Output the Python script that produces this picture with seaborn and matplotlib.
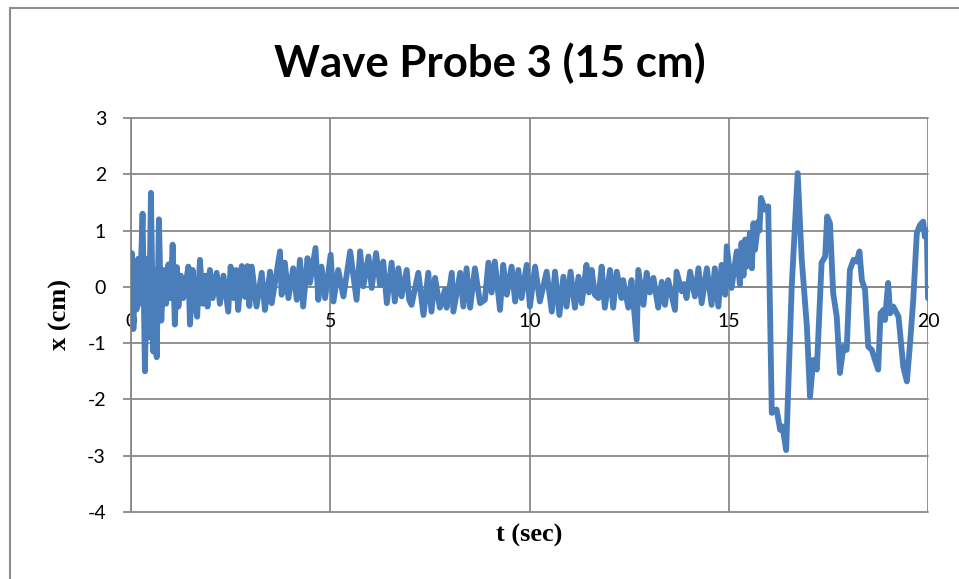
import matplotlib
matplotlib.use("Agg")
import matplotlib.pyplot as plt
from matplotlib.patches import Rectangle
import seaborn as sns
import pandas as pd

# Wave probe 3 record: time (s) and surface elevation (cm)
t_sec = [
    0.00, 0.02, 0.06, 0.10, 0.14, 0.18, 0.22, 0.29, 0.35, 0.40,
    0.45, 0.50, 0.56, 0.60, 0.645, 0.70, 0.76, 0.82, 0.88, 0.94,
    0.99, 1.045, 1.10, 1.15, 1.19, 1.25, 1.31, 1.37, 1.44, 1.48,
    1.55, 1.61, 1.66, 1.73, 1.80, 1.86, 1.92, 1.98, 2.05, 2.15,
    2.23, 2.32, 2.44, 2.50, 2.58, 2.64, 2.69, 2.78, 2.86, 2.92,
    2.97, 3.03, 3.15, 3.28, 3.36, 3.49, 3.53, 3.74, 3.78, 3.86,
    3.95, 4.07, 4.16, 4.24, 4.32, 4.43, 4.49, 4.63, 4.70, 4.78,
    4.87, 5.01, 5.08, 5.20, 5.33, 5.50, 5.66, 5.75, 5.83, 5.96,
    6.04, 6.15, 6.25, 6.33, 6.42, 6.54, 6.62, 6.71, 6.79, 6.92,
    6.98, 7.04, 7.21, 7.34, 7.46, 7.54, 7.63, 7.75, 7.88, 7.92,
    8.05, 8.09, 8.26, 8.34, 8.42, 8.51, 8.63, 8.76, 8.88, 8.97,
    9.05, 9.13, 9.26, 9.34, 9.43, 9.55, 9.64, 9.72, 9.80, 9.93,
    10.01, 10.14, 10.26, 10.43, 10.56, 10.64, 10.75, 10.85, 10.93, 11.03,
    11.14, 11.23, 11.31, 11.43, 11.49, 11.56, 11.64, 11.73, 11.81, 11.89,
    12.02, 12.10, 12.19, 12.31, 12.35, 12.48, 12.56, 12.69, 12.73, 12.86,
    12.94, 13.02, 13.11, 13.23, 13.32, 13.40, 13.48, 13.65, 13.69, 13.82,
    13.88, 13.94, 14.03, 14.15, 14.24, 14.32, 14.45, 14.57, 14.65, 14.74,
    14.82, 14.91, 14.95, 15.07, 15.20, 15.28, 15.32, 15.37, 15.41, 15.45,
    15.53, 15.58, 15.62, 15.66, 15.74, 15.77, 15.81, 15.91, 15.99, 16.08,
    16.20, 16.29, 16.35, 16.44, 16.58, 16.73, 16.83, 16.96, 17.04, 17.12,
    17.21, 17.33, 17.42, 17.47, 17.54, 17.62, 17.71, 17.79, 17.88, 17.96,
    18.04, 18.13, 18.21, 18.28, 18.34, 18.42, 18.50, 18.59, 18.67, 18.75,
    18.81, 18.88, 18.92, 19.00, 19.05, 19.13, 19.26, 19.38, 19.47, 19.55,
    19.63, 19.72, 19.80, 19.88, 19.92, 19.97, 20.00,
]
x_cm = [
    -0.20, 0.60, -0.75, 0.40, -0.40, 0.50, -0.30, 1.30, -1.50, 0.50,
    -0.90, 1.67, -1.15, 0.30, -1.25, 1.20, -0.60, 0.30, -0.30, 0.40,
    -0.20, 0.75, -0.67, 0.35, -0.35, 0.20, -0.20, 0.05, 0.36, -0.67,
    0.30, -0.30, -0.53, 0.48, -0.30, 0.20, -0.35, 0.30, -0.20, 0.25,
    -0.30, 0.20, -0.44, 0.36, -0.20, 0.30, -0.41, 0.37, -0.18, 0.37,
    -0.34, 0.36, -0.35, 0.25, -0.41, 0.27, -0.29, 0.63, -0.14, 0.43,
    -0.20, 0.33, -0.23, 0.48, -0.35, 0.51, 0.07, 0.69, -0.23, 0.36,
    -0.20, 0.57, -0.26, 0.30, -0.17, 0.63, -0.23, 0.63, 0.01, 0.54,
    -0.02, 0.60, 0.03, 0.45, -0.29, 0.43, -0.26, 0.33, -0.17, 0.30,
    -0.23, -0.32, 0.25, -0.50, 0.25, -0.44, 0.16, -0.37, -0.05, -0.37,
    0.25, -0.44, 0.25, -0.35, 0.33, -0.37, 0.33, -0.29, -0.23, 0.43,
    -0.10, 0.45, -0.41, 0.39, -0.14, 0.36, -0.26, 0.30, -0.20, 0.39,
    -0.35, 0.36, -0.26, 0.27, -0.44, 0.27, -0.50, 0.18, -0.35, 0.27,
    -0.37, 0.18, -0.29, 0.39, -0.10, 0.30, -0.14, -0.20, 0.36, -0.37,
    0.30, -0.37, 0.27, -0.20, 0.12, -0.37, 0.12, -0.94, 0.30, -0.32,
    0.25, -0.10, 0.16, -0.37, 0.09, -0.32, 0.12, -0.41, 0.27, -0.08,
    0.05, -0.20, 0.27, -0.17, 0.33, -0.29, 0.33, -0.32, 0.33, -0.35,
    0.39, -0.14, 0.72, -0.02, 0.63, 0.04, 0.78, 0.20, 0.84, 0.36,
    0.96, 0.33, 1.13, 0.66, 1.16, 1.00, 1.58, 1.37, 1.43, -2.24,
    -2.18, -2.54, -2.48, -2.90, 0.00, 2.02, 0.50, -0.70, -1.95, -1.30,
    -1.47, 0.43, 0.54, 1.25, 1.13, -0.11, -0.53, -1.53, -1.06, -1.12,
    0.30, 0.48, 0.45, 0.63, 0.12, -0.05, -1.06, -1.12, -1.30, -1.47,
    -0.47, -0.41, -0.59, 0.07, -0.47, -0.35, -0.53, -1.42, -1.68, -1.00,
    -0.23, 0.96, 1.10, 1.16, 0.89, 1.01, -0.20,
]
x_ticks = [0, 5, 10, 15, 20]
y_ticks = [-4, -3, -2, -1, 0, 1, 2, 3]

title = "Wave Probe 3 (15 cm)"
x_label = "t (sec)"
y_label = "x (cm)"

df = pd.DataFrame({"t": t_sec, "x": x_cm})

sns.set_theme(style="white")
plt.rcParams["font.family"] = ["Lato", "DejaVu Sans"]
plt.rcParams["text.color"] = "black"
plt.rcParams["axes.labelcolor"] = "black"

W, H = 959, 579
fig = plt.figure(figsize=(W / 100, H / 100), dpi=100)
ax = fig.add_axes([131 / W, 1 - 512 / H, (928 - 131) / W, (512 - 118) / H])

grid_col = "#898989"
line_col = "#4a7ebb"

sns.lineplot(data=df, x="t", y="x", ax=ax, sort=False, estimator=None,
             color=line_col, linewidth=4.2, solid_joinstyle="round",
             solid_capstyle="round", zorder=3)

ax.set_xlim(0, 20)
ax.set_ylim(-4, 3)
ax.set_xticks(x_ticks)
ax.set_yticks(y_ticks)
ax.set_xticklabels([str(v) for v in x_ticks])
ax.set_yticklabels([str(v) for v in y_ticks])

ax.grid(True, color=grid_col, linewidth=1.3)
for gl in ax.get_xgridlines() + ax.get_ygridlines():
    gl.set_clip_on(False)
ax.set_axisbelow(True)

# horizontal axis crosses at zero
ax.spines["bottom"].set_position(("data", 0))
ax.spines["bottom"].set_color(grid_col)
ax.spines["bottom"].set_linewidth(1.3)
ax.spines["left"].set_color(grid_col)
ax.spines["left"].set_linewidth(1.3)
ax.spines["top"].set_visible(False)
ax.spines["right"].set_visible(False)

ax.tick_params(axis="y", which="major", left=True, length=6, width=1.3,
               color=grid_col, direction="out", pad=12, labelsize=14,
               labelcolor="black")
ax.tick_params(axis="x", which="major", bottom=False, length=0, pad=19,
               labelsize=14, labelcolor="black")

ax.set_xlabel(x_label, fontsize=19, fontweight="bold", color="black",
              family=["Liberation Serif", "DejaVu Serif"])
ax.xaxis.set_label_coords(0.5, -0.03)
ax.set_ylabel(y_label, fontsize=19, fontweight="bold", color="black",
              family=["Liberation Serif", "DejaVu Serif"])
ax.yaxis.set_label_coords(-0.074, 0.5)

fig.text(490 / W, 1 - 77 / H, title, ha="center", va="baseline",
         fontsize=31.5, fontweight="bold", color="black")

# chart frame
fig.patches.append(Rectangle((9.5 / W, -0.05), 1.1, 1 - 7.5 / H + 0.05,
                             transform=fig.transFigure, fill=False,
                             edgecolor="#8c8c8c", linewidth=1.5))

fig.savefig("out.png", dpi=100)
